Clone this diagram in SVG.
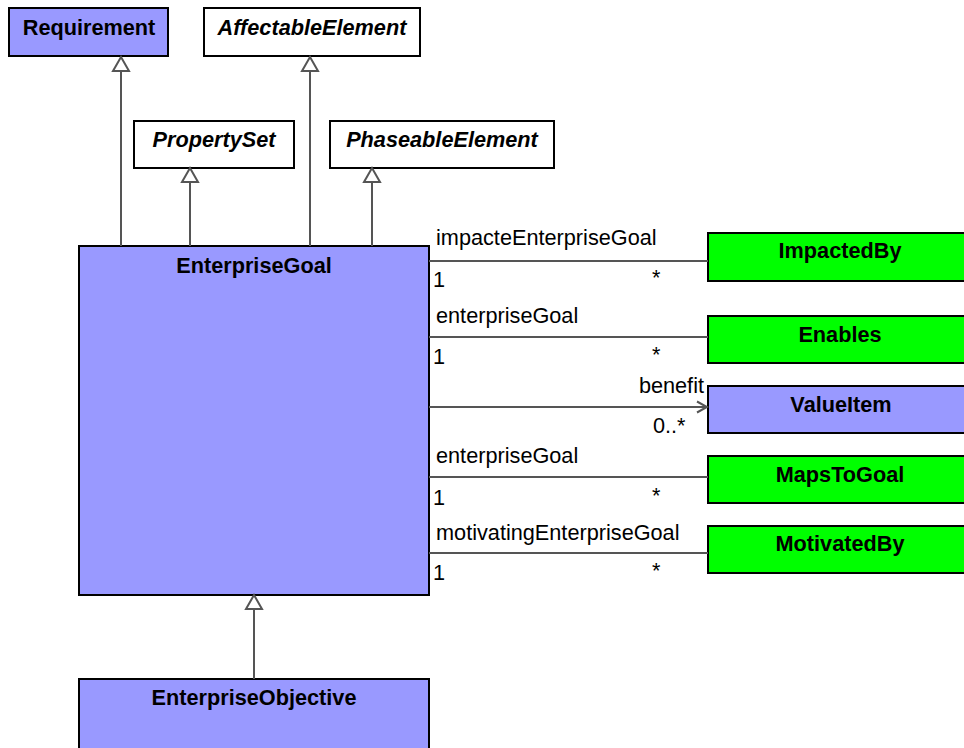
<svg xmlns="http://www.w3.org/2000/svg" width="964" height="748" viewBox="0 0 964 748">
<style>
.box{stroke:#000;stroke-width:2}
.blue{fill:#9999FF}
.green{fill:#00FF00}
.white{fill:#FFFFFF}
.t{font-family:"Liberation Sans",Arial,sans-serif;font-size:21.7px;fill:#000}
.b{font-weight:bold;text-anchor:middle}
.i{font-style:italic}
.ln{stroke:#555;stroke-width:2;fill:none}
.tri{stroke:#555;stroke-width:2;fill:#fff}
</style>
<defs>
<marker id="open" markerWidth="14" markerHeight="14" refX="12" refY="7" orient="auto" markerUnits="userSpaceOnUse">
<path d="M2,1.5 L12,7 L2,12.5" fill="none" stroke="#555" stroke-width="2"/>
</marker>
</defs>
<g id="Requirement"><rect class="box blue" x="9" y="8" width="159" height="48"/><text class="t b" x="89" y="35">Requirement</text></g>
<g id="AffectableElement"><rect class="box white" x="204" y="8" width="216" height="48"/><text class="t b i" x="312" y="35">AffectableElement</text></g>
<g id="PropertySet"><rect class="box white" x="134" y="121" width="160" height="47"/><text class="t b i" x="214" y="147">PropertySet</text></g>
<g id="PhaseableElement"><rect class="box white" x="330" y="121" width="224" height="47"/><text class="t b i" x="442" y="147">PhaseableElement</text></g>
<g id="EnterpriseGoal"><rect class="box blue" x="79" y="246" width="350" height="349"/><text class="t b" x="254" y="273">EnterpriseGoal</text></g>
<g id="EnterpriseObjective"><rect class="box blue" x="79" y="679" width="350" height="80"/><text class="t b" x="254" y="705">EnterpriseObjective</text></g>
<g id="ImpactedBy"><rect class="box green" x="708" y="233" width="266" height="48"/><text class="t b" x="840" y="258">ImpactedBy</text></g>
<g id="Enables"><rect class="box green" x="708" y="316" width="266" height="47"/><text class="t b" x="840" y="342">Enables</text></g>
<g id="ValueItem"><rect class="box blue" x="708" y="386" width="266" height="47"/><text class="t b" x="841" y="412">ValueItem</text></g>
<g id="MapsToGoal"><rect class="box green" x="708" y="456" width="266" height="47"/><text class="t b" x="840" y="482">MapsToGoal</text></g>
<g id="MotivatedBy"><rect class="box green" x="708" y="526" width="266" height="47"/><text class="t b" x="840" y="551">MotivatedBy</text></g>
<g id="connectors">
<line class="ln" x1="121" y1="246" x2="121" y2="71"/><path class="tri" d="M121,57 L129,71 L113,71 Z"/>
<line class="ln" x1="190" y1="246" x2="190" y2="182"/><path class="tri" d="M190,168 L198,182 L182,182 Z"/>
<line class="ln" x1="310" y1="246" x2="310" y2="71"/><path class="tri" d="M310,57 L318,71 L302,71 Z"/>
<line class="ln" x1="372" y1="246" x2="372" y2="182"/><path class="tri" d="M372,168 L380,182 L364,182 Z"/>
<line class="ln" x1="254" y1="679" x2="254" y2="609"/><path class="tri" d="M254,595 L262,609 L246,609 Z"/>
<line class="ln" x1="429" y1="261" x2="708" y2="261"/>
<line class="ln" x1="429" y1="337" x2="708" y2="337"/>
<line class="ln" x1="429" y1="407" x2="707" y2="407" marker-end="url(#open)"/>
<line class="ln" x1="429" y1="477" x2="708" y2="477"/>
<line class="ln" x1="429" y1="553" x2="708" y2="553"/>
<text class="t" x="436" y="245">impacteEnterpriseGoal</text>
<text class="t" x="433" y="287">1</text>
<text class="t" x="652" y="285">*</text>
<text class="t" x="436" y="323">enterpriseGoal</text>
<text class="t" x="433" y="364">1</text>
<text class="t" x="652" y="362">*</text>
<text class="t" x="704" y="393" text-anchor="end">benefit</text>
<text class="t" x="653" y="433">0..*</text>
<text class="t" x="436" y="463">enterpriseGoal</text>
<text class="t" x="433" y="505">1</text>
<text class="t" x="652" y="503">*</text>
<text class="t" x="436" y="540">motivatingEnterpriseGoal</text>
<text class="t" x="433" y="580">1</text>
<text class="t" x="652" y="578">*</text>
</g>
</svg>
